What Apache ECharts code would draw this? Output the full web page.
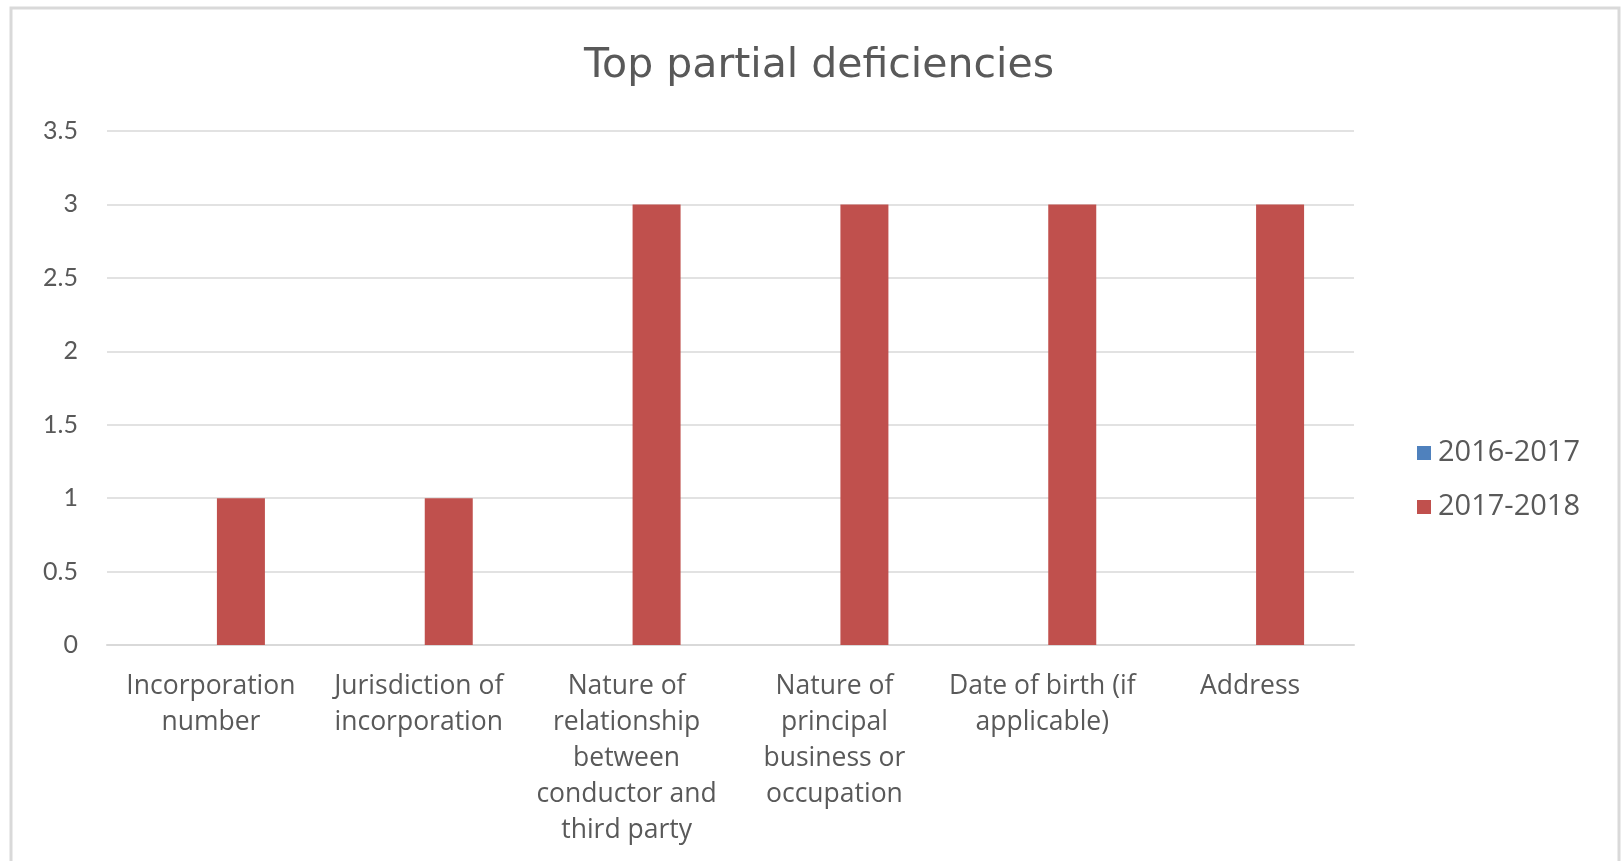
<!DOCTYPE html>
<html>
<head>
<meta charset="utf-8">
<script src="https://cdn.jsdelivr.net/npm/echarts@6/dist/echarts.min.js"></script>
<style>
html,body{margin:0;padding:0;background:#fff;}
#main{width:1621px;height:861px;}
</style>
</head>
<body>
<div id="main"></div>
<script>
const titleText = 'Top partial deficiencies';
const categories = [
  'Incorporation\nnumber',
  'Jurisdiction of\nincorporation',
  'Nature of\nrelationship\nbetween\nconductor and\nthird party',
  'Nature of\nprincipal\nbusiness or\noccupation',
  'Date of birth (if\napplicable)',
  'Address'
];
const seriesNames = ['2016-2017', '2017-2018'];
const values2016 = [0, 0, 0, 0, 0, 0];
const values2017 = [1, 1, 3, 3, 3, 3];
const yTicks = { min: 0, max: 3.5, interval: 0.5 };

const chart = echarts.init(document.getElementById('main'));
const textColor = '#595959';
chart.setOption({
  animation: false,
  backgroundColor: '#ffffff',
  graphic: [{
    type: 'rect',
    shape: { x: 11, y: 8, width: 1608, height: 900 },
    style: { fill: 'none', stroke: '#d9d9d9', lineWidth: 3 },
    silent: true
  }],
  title: {
    text: titleText,
    left: 814, top: 41, textAlign: 'center',
    textStyle: { fontFamily: 'DejaVu Sans', fontSize: 41, fontWeight: 'normal', color: textColor }
  },
  legend: {
    orient: 'vertical',
    left: 1412, top: 433,
    itemWidth: 14, itemHeight: 14, itemGap: 24,
    icon: 'rect',
    data: seriesNames,
    textStyle: { fontFamily: 'Open Sans', fontSize: 29, color: textColor, lineHeight: 30, padding: [0,0,0,2] }
  },
  grid: { left: 107, right: 267, top: 131, bottom: 216, containLabel: false },
  xAxis: {
    type: 'category',
    data: categories,
    axisLine: { lineStyle: { color: '#d9d9d9', width: 2 } },
    axisTick: { show: false },
    axisLabel: {
      interval: 0,
      margin: 23,
      fontFamily: 'Open Sans', fontSize: 26.5, color: textColor, lineHeight: 36, align: 'center'
    }
  },
  yAxis: {
    type: 'value',
    min: yTicks.min, max: yTicks.max, interval: yTicks.interval,
    axisLine: { show: false },
    axisTick: { show: false },
    splitLine: { lineStyle: { color: '#d9d9d9', width: 1.5 } },
    axisLabel: { margin: 29, fontFamily: 'Lato', fontSize: 25, color: textColor }
  },
  series: [
    { name: seriesNames[0], type: 'bar', data: values2016, barWidth: 48, barGap: '25%', itemStyle: { color: '#4F81BD' } },
    { name: seriesNames[1], type: 'bar', data: values2017, barWidth: 48, barGap: '25%', itemStyle: { color: '#C0504D' } }
  ]
});
</script>
</body>
</html>
